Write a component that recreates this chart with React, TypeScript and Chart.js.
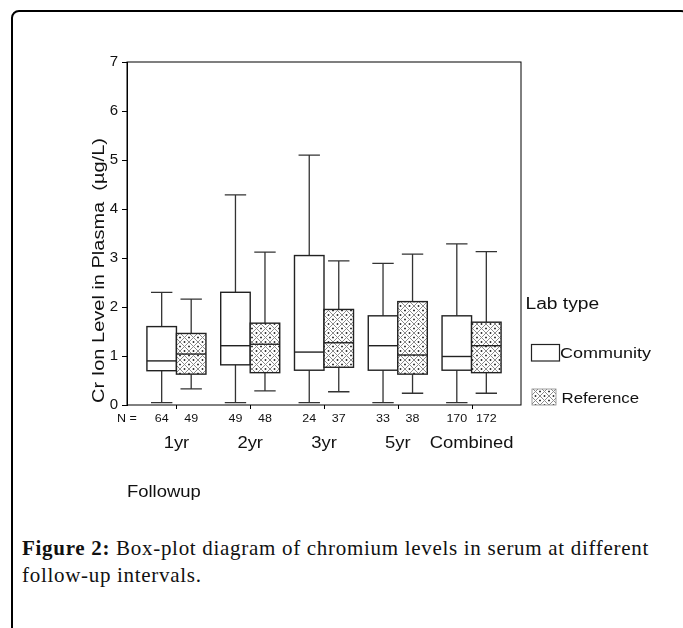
import React, { useEffect, useRef } from "react";
import { Chart, registerables } from "chart.js";

Chart.register(...registerables);

// ---- data ----
const categories = ["1yr", "2yr", "3yr", "5yr", "Combined"];
const communityN = [64, 49, 24, 33, 170];
const referenceN = [49, 48, 37, 38, 172];

const communityMin = [0.05, 0.05, 0.05, 0.05, 0.05];
const communityQ1 = [0.7, 0.82, 0.71, 0.71, 0.71];
const communityMedian = [0.9, 1.21, 1.08, 1.21, 0.99];
const communityQ3 = [1.6, 2.3, 3.05, 1.82, 1.82];
const communityMax = [2.3, 4.29, 5.1, 2.89, 3.29];

const referenceMin = [0.33, 0.29, 0.27, 0.24, 0.24];
const referenceQ1 = [0.63, 0.66, 0.77, 0.63, 0.66];
const referenceMedian = [1.04, 1.24, 1.27, 1.02, 1.21];
const referenceQ3 = [1.46, 1.67, 1.95, 2.11, 1.69];
const referenceMax = [2.16, 3.12, 2.94, 3.08, 3.13];

const yTickValues = [0, 1, 2, 3, 4, 5, 6, 7];

const yTitle = "Cr Ion Level in Plasma  (\u00b5g/L)";
const xTitle = "Followup";
const legendTitle = "Lab type";
const seriesNames = ["Community", "Reference"];

const SANS = "'Liberation Sans', Arial, sans-serif";

function makeHatch(): CanvasPattern | string {
  const s = 9;
  const c = document.createElement("canvas");
  c.width = s;
  c.height = s;
  const g = c.getContext("2d");
  if (!g) return "#ccc";
  g.fillStyle = "#ffffff";
  g.fillRect(0, 0, s, s);
  g.strokeStyle = "#8c8c8c";
  g.lineWidth = 1;
  g.beginPath();
  g.moveTo(0, 0);
  g.lineTo(s, s);
  g.moveTo(s, 0);
  g.lineTo(0, s);
  g.stroke();
  g.fillStyle = "#222";
  const h = s / 2;
  g.fillRect(h - 0.75, 0, 1.5, 0.9);
  g.fillRect(h - 0.75, s - 0.9, 1.5, 0.9);
  g.fillRect(0, h - 0.75, 0.9, 1.5);
  g.fillRect(s - 0.9, h - 0.75, 0.9, 1.5);
  const p = g.createPattern(c, "repeat");
  return p || "#ccc";
}

function stretchText(
  ctx: CanvasRenderingContext2D,
  text: string,
  x: number,
  y: number,
  size: number,
  sx: number,
  align: CanvasTextAlign
) {
  ctx.save();
  ctx.font = `${size}px ${SANS}`;
  ctx.fillStyle = "#111";
  ctx.textBaseline = "alphabetic";
  ctx.textAlign = align;
  ctx.translate(x, y);
  ctx.scale(sx, 1);
  ctx.fillText(text, 0, 0);
  ctx.restore();
}

const BOX_W = 0.4;
const CAP_W = 0.29;

export default function App() {
  const ref = useRef<HTMLCanvasElement | null>(null);

  useEffect(() => {
    if (!ref.current) return;
    const hatch = makeHatch();

    const groups = [
      {
        min: communityMin, q1: communityQ1, med: communityMedian, q3: communityQ3, max: communityMax,
        n: communityN, offset: -BOX_W / 2, fill: "#ffffff" as any,
      },
      {
        min: referenceMin, q1: referenceQ1, med: referenceMedian, q3: referenceQ3, max: referenceMax,
        n: referenceN, offset: BOX_W / 2, fill: hatch as any,
      },
    ];

    const boxPlugin = {
      id: "boxplots",
      afterDatasetsDraw(chart: any) {
        const { ctx, chartArea, scales } = chart;
        const xs = scales.x;
        const ys = scales.y;
        ctx.save();
        groups.forEach((gr) => {
          categories.forEach((_, i) => {
            const cx = xs.getPixelForValue(i + gr.offset);
            const half = xs.getPixelForValue(BOX_W / 2) - xs.getPixelForValue(0);
            const capHalf = xs.getPixelForValue(CAP_W / 2) - xs.getPixelForValue(0);
            const yMin = ys.getPixelForValue(gr.min[i]);
            const yQ1 = ys.getPixelForValue(gr.q1[i]);
            const yMed = ys.getPixelForValue(gr.med[i]);
            const yQ3 = ys.getPixelForValue(gr.q3[i]);
            const yMax = ys.getPixelForValue(gr.max[i]);
            ctx.strokeStyle = "#333";
            ctx.lineWidth = 1.3;
            ctx.beginPath();
            ctx.moveTo(cx, yQ3);
            ctx.lineTo(cx, yMax);
            ctx.moveTo(cx - capHalf, yMax);
            ctx.lineTo(cx + capHalf, yMax);
            ctx.moveTo(cx, yQ1);
            ctx.lineTo(cx, yMin);
            ctx.moveTo(cx - capHalf, yMin);
            ctx.lineTo(cx + capHalf, yMin);
            ctx.stroke();
            ctx.fillStyle = gr.fill;
            ctx.fillRect(cx - half, yQ3, 2 * half, yQ1 - yQ3);
            ctx.strokeStyle = "#222";
            ctx.lineWidth = 1.4;
            ctx.strokeRect(cx - half, yQ3, 2 * half, yQ1 - yQ3);
            ctx.beginPath();
            ctx.moveTo(cx - half, yMed);
            ctx.lineTo(cx + half, yMed);
            ctx.stroke();
          });
        });
        // plot frame
        ctx.strokeStyle = "#000";
        ctx.lineWidth = 1;
        ctx.strokeRect(chartArea.left, chartArea.top, chartArea.right - chartArea.left, chartArea.bottom - chartArea.top);
        // category tick marks
        ctx.beginPath();
        categories.forEach((_, i) => {
          const px = Math.round(xs.getPixelForValue(i)) + 0.5;
          ctx.moveTo(px, chartArea.bottom);
          ctx.lineTo(px, chartArea.bottom + 4);
        });
        ctx.stroke();
        ctx.restore();
      },
      afterDraw(chart: any) {
        const { ctx, chartArea, scales } = chart;
        const xs = scales.x;
        const bottom = chartArea.bottom;
        // N labels
        stretchText(ctx, "N =", chartArea.left - 10, bottom + 16.5, 10, 1.25, "left");
        groups.forEach((gr) => {
          categories.forEach((_, i) => {
            stretchText(ctx, String(gr.n[i]), xs.getPixelForValue(i + gr.offset), bottom + 16.5, 10, 1.25, "center");
          });
        });
        // category labels
        categories.forEach((c, i) => {
          stretchText(ctx, c, xs.getPixelForValue(i), bottom + 43, 16, 1.15, "center");
        });
        // x title
        stretchText(ctx, xTitle, chartArea.left, bottom + 92, 16, 1.15, "left");
        // y title (rotated)
        ctx.save();
        ctx.font = `16px ${SANS}`;
        ctx.fillStyle = "#111";
        ctx.textAlign = "left";
        ctx.textBaseline = "alphabetic";
        ctx.translate(chartArea.left - 23, bottom - 2);
        ctx.rotate(-Math.PI / 2);
        ctx.scale(1.25, 1);
        ctx.fillText(yTitle, 0, 0);
        ctx.restore();
        // legend
        const lx = chartArea.right + 4.5;
        stretchText(ctx, legendTitle, lx, 308.5, 16, 1.2, "left");
        ctx.save();
        ctx.fillStyle = "#fff";
        ctx.fillRect(lx + 6, 344.5, 28, 16.5);
        ctx.strokeStyle = "#222";
        ctx.lineWidth = 1.2;
        ctx.strokeRect(lx + 6, 344.5, 28, 16.5);
        ctx.fillStyle = hatch as any;
        ctx.fillRect(lx + 6.5, 389, 24, 16);
        ctx.strokeStyle = "#888";
        ctx.lineWidth = 0.8;
        ctx.strokeRect(lx + 6.5, 389, 24, 16);
        ctx.restore();
        stretchText(ctx, seriesNames[0], lx + 34.5, 358, 15, 1.2, "left");
        stretchText(ctx, seriesNames[1], lx + 36, 402.5, 14, 1.2, "left");
      },
    };

    const chart = new Chart(ref.current, {
      type: "scatter",
      data: {
        datasets: [
          {
            label: seriesNames[0],
            data: categories.map((_, i) => ({ x: i - BOX_W / 2, y: communityMedian[i] })),
            pointRadius: 0,
            showLine: false,
          },
          {
            label: seriesNames[1],
            data: categories.map((_, i) => ({ x: i + BOX_W / 2, y: referenceMedian[i] })),
            pointRadius: 0,
            showLine: false,
          },
        ],
      },
      options: {
        responsive: false,
        maintainAspectRatio: false,
        animation: false,
        events: [],
        layout: { padding: { left: 83, top: 62, right: 162, bottom: 125 } },
        plugins: { legend: { display: false }, tooltip: { enabled: false }, title: { display: false } },
        scales: {
          x: { type: "linear", min: -0.67, max: 4.67, display: false },
          y: {
            type: "linear",
            min: 0,
            max: 7,
            afterFit: (s: any) => {
              s.width = 44;
            },
            afterBuildTicks: (s: any) => {
              s.ticks = yTickValues.map((v) => ({ value: v }));
            },
            ticks: {
              color: "#111",
              font: { family: SANS, size: 15 },
              padding: 4,
            },
            grid: { drawOnChartArea: false, drawTicks: true, tickLength: 5, color: "#000", tickColor: "#000" },
            border: { display: true, color: "#000", width: 1 },
          },
        },
      },
      plugins: [boxPlugin],
    });
    return () => chart.destroy();
  }, []);

  return (
    <div style={{ position: "fixed", left: 0, top: 0, width: 683, height: 628, overflow: "hidden", background: "#fff" }}>
      <div
        style={{
          position: "absolute",
          left: 11,
          top: 10,
          width: 678,
          height: 700,
          boxSizing: "border-box",
          border: "2px solid #000",
          borderRadius: 8,
        }}
      />
      <canvas ref={ref} width={683} height={530} style={{ position: "absolute", left: 0, top: 0, width: 683, height: 530 }} />
      <div
        style={{
          position: "absolute",
          left: 22,
          top: 535,
          width: 655,
          fontFamily: "'Liberation Serif', 'Times New Roman', serif",
          fontSize: 21,
          lineHeight: "27px",
          letterSpacing: "0.7px",
          color: "#111",
        }}
      >
        <b>Figure 2:</b> Box-plot diagram of chromium levels in serum at different follow-up intervals.
      </div>
    </div>
  );
}
